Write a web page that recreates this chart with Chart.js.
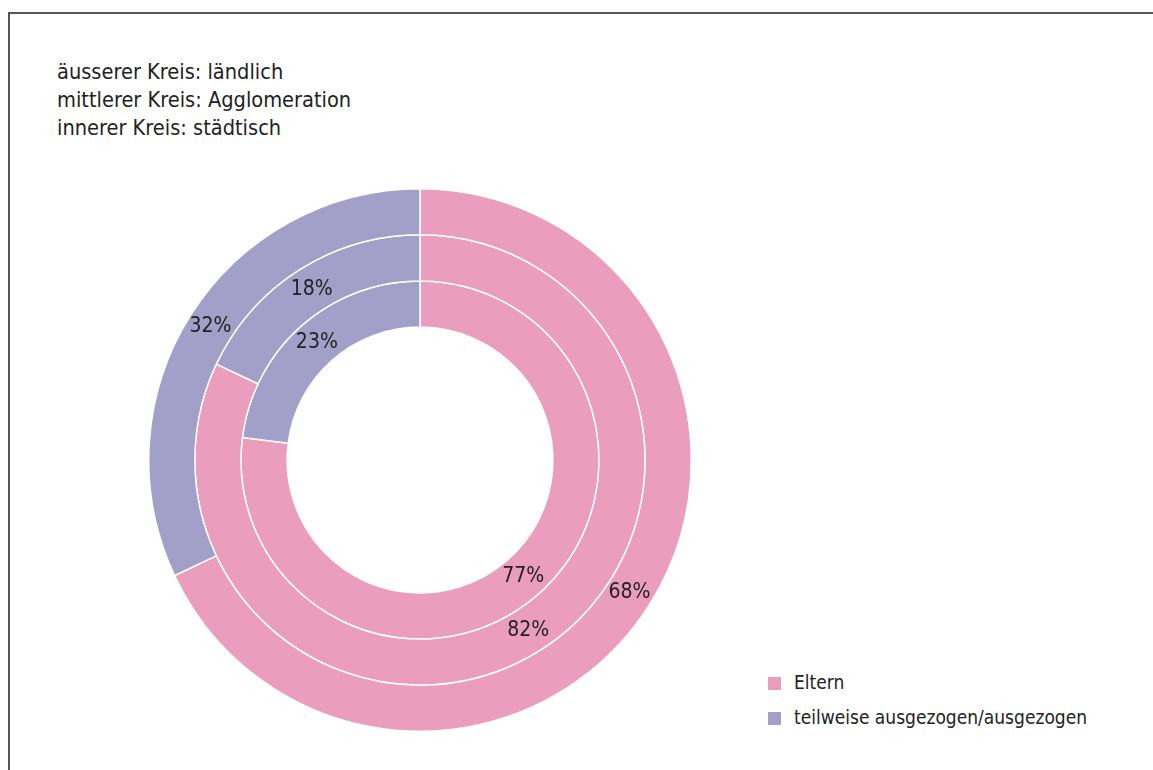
<!DOCTYPE html>
<html>
<head>
<meta charset="utf-8">
<script src="https://cdn.jsdelivr.net/npm/chart.js@4"></script>
<style>
  body { margin: 0; background: #fff; font-family: "DejaVu Sans Condensed", "DejaVu Sans", sans-serif; font-stretch: condensed; color: #222; overflow: hidden; }
  #frame { position: absolute; left: 8px; top: 12px; width: 1200px; height: 800px; border-left: 2px solid #555; border-top: 2px solid #555; }
  #title { position: absolute; left: 57px; top: 58px; font-size: 21.6px; line-height: 28px; }
  #chartBox { position: absolute; left: 148px; top: 188px; width: 544px; height: 544px; }
  #legend { position: absolute; left: 768px; top: 668px; font-size: 19px; }
  #legend div { height: 35px; line-height: 28px; }
  #legend span.sw { display: inline-block; width: 13px; height: 13px; margin-right: 13px; vertical-align: -1px; }
</style>
</head>
<body>
<div id="frame"></div>
<div id="title">äusserer Kreis: ländlich<br>mittlerer Kreis: Agglomeration<br>innerer Kreis: städtisch</div>
<div id="chartBox"><canvas id="myChart"></canvas></div>
<div id="legend"></div>
<script>
// Ringe von aussen nach innen
var rings = ['ländlich', 'Agglomeration', 'städtisch'];
var categories = ['Eltern', 'teilweise ausgezogen/ausgezogen'];
var eltern = [68, 82, 77];
var ausgezogen = [32, 18, 23];
var colors = ['#EB9DBD', '#A29FC8'];

var datasets = [];
for (var i = 0; i < rings.length; i++) {
    datasets.push({
        label: rings[i],
        data: [eltern[i], ausgezogen[i]],
        backgroundColor: colors,
        borderColor: '#ffffff',
        borderWidth: 1.5
    });
}

// Prozentwerte in die Segmente schreiben
var percentLabels = {
    id: 'percentLabels',
    afterDatasetsDraw: function(chart) {
        var ctx = chart.ctx;
        ctx.save();
        ctx.font = 'condensed 21px "DejaVu Sans Condensed", "DejaVu Sans", sans-serif';
        ctx.fillStyle = '#222';
        ctx.textAlign = 'center';
        ctx.textBaseline = 'middle';
        chart.data.datasets.forEach(function(ds, di) {
            var meta = chart.getDatasetMeta(di);
            meta.data.forEach(function(arc, j) {
                var p = arc.tooltipPosition();
                ctx.fillText(ds.data[j] + '%', p.x, p.y);
            });
        });
        ctx.restore();
    }
};

var legend = document.getElementById('legend');
categories.forEach(function(c, i) {
    var d = document.createElement('div');
    d.innerHTML = '<span class="sw" style="background:' + colors[i] + '"></span>' + c;
    legend.appendChild(d);
});

new Chart(document.getElementById('myChart').getContext('2d'), {
    type: 'doughnut',
    data: { labels: categories, datasets: datasets },
    options: {
        responsive: true,
        maintainAspectRatio: false,
        animation: false,
        cutout: '49%',
        plugins: {
            legend: { display: false },
            tooltip: { enabled: false }
        }
    },
    plugins: [percentLabels]
});
</script>
</body>
</html>
